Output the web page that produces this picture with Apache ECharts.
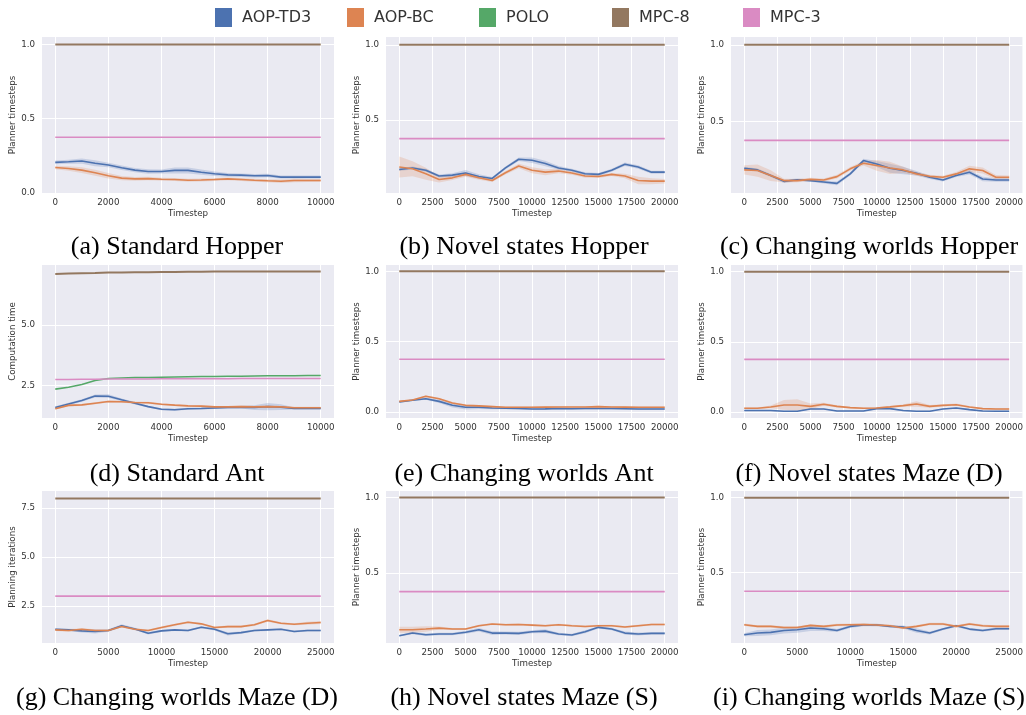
<!DOCTYPE html>
<html>
<head>
<meta charset="utf-8">
<script src="https://cdn.jsdelivr.net/npm/echarts@6/dist/echarts.min.js"></script>
<style>
  html, body { margin: 0; padding: 0; background: #fff; }
  #chart { width: 1026px; height: 715px; }
</style>
</head>
<body>
<div id="chart"></div>
<script>
// x samples
const steps10k = [0, 500, 1000, 1500, 2000, 2500, 3000, 3500, 4000, 4500, 5000, 5500, 6000, 6500, 7000, 7500, 8000, 8500, 9000, 9500, 10000];
const steps20k = [0, 1000, 2000, 3000, 4000, 5000, 6000, 7000, 8000, 9000, 10000, 11000, 12000, 13000, 14000, 15000, 16000, 17000, 18000, 19000, 20000];
const steps25k = [0, 1250, 2500, 3750, 5000, 6250, 7500, 8750, 10000, 11250, 12500, 13750, 15000, 16250, 17500, 18750, 20000, 21250, 22500, 23750, 25000];

// tick labels
const ticks10k = [0, 2000, 4000, 6000, 8000, 10000];
const ticks20k = [0, 2500, 5000, 7500, 10000, 12500, 15000, 17500, 20000];
const ticks25k = [0, 5000, 10000, 15000, 20000, 25000];
const ticksUnit = [0, 0.5, 1.0];
const ticksIter = [2.5, 5.0, 7.5];

// (a) Standard Hopper
const td3A = [0.206, 0.21, 0.215, 0.2, 0.188, 0.17, 0.154, 0.145, 0.145, 0.152, 0.152, 0.14, 0.13, 0.122, 0.12, 0.116, 0.118, 0.107, 0.107, 0.107, 0.107];
const td3SpreadA = [0.012, 0.013, 0.018, 0.02, 0.015, 0.015, 0.015, 0.015, 0.013, 0.02, 0.02, 0.018, 0.015, 0.013, 0.012, 0.012, 0.012, 0.01, 0.01, 0.01, 0.01];
const bcA = [0.172, 0.165, 0.154, 0.136, 0.116, 0.1, 0.095, 0.097, 0.093, 0.091, 0.086, 0.088, 0.091, 0.095, 0.091, 0.086, 0.082, 0.079, 0.084, 0.084, 0.084];
const bcSpreadA = [0.012, 0.015, 0.02, 0.02, 0.018, 0.015, 0.012, 0.012, 0.01, 0.01, 0.01, 0.01, 0.01, 0.01, 0.01, 0.01, 0.01, 0.012, 0.012, 0.01, 0.01];

// (b) Novel states Hopper
const td3B = [0.17, 0.18, 0.164, 0.126, 0.132, 0.146, 0.123, 0.11, 0.18, 0.238, 0.231, 0.209, 0.18, 0.164, 0.141, 0.137, 0.164, 0.204, 0.186, 0.152, 0.152];
const td3SpreadB = [0.01, 0.01, 0.01, 0.01, 0.012, 0.02, 0.015, 0.01, 0.01, 0.012, 0.018, 0.018, 0.012, 0.01, 0.01, 0.01, 0.01, 0.012, 0.012, 0.01, 0.01];
const bcB = [0.186, 0.175, 0.141, 0.103, 0.114, 0.137, 0.114, 0.096, 0.148, 0.193, 0.164, 0.152, 0.159, 0.146, 0.126, 0.123, 0.137, 0.126, 0.096, 0.092, 0.092];
const bcSpreadB = [0.07, 0.05, 0.04, 0.02, 0.015, 0.015, 0.012, 0.01, 0.012, 0.015, 0.02, 0.02, 0.015, 0.012, 0.012, 0.01, 0.01, 0.015, 0.025, 0.02, 0.015];

// (c) Changing worlds Hopper
const td3C = [0.193, 0.182, 0.145, 0.107, 0.118, 0.112, 0.103, 0.094, 0.156, 0.243, 0.221, 0.193, 0.178, 0.16, 0.134, 0.116, 0.145, 0.167, 0.123, 0.116, 0.116];
const td3SpreadC = [0.01, 0.01, 0.01, 0.01, 0.008, 0.008, 0.01, 0.012, 0.01, 0.012, 0.02, 0.03, 0.025, 0.015, 0.012, 0.01, 0.01, 0.015, 0.015, 0.012, 0.012];
const bcC = [0.182, 0.178, 0.145, 0.112, 0.112, 0.12, 0.116, 0.138, 0.189, 0.226, 0.211, 0.195, 0.182, 0.156, 0.14, 0.134, 0.156, 0.189, 0.178, 0.134, 0.134];
const bcSpreadC = [0.03, 0.04, 0.035, 0.012, 0.01, 0.01, 0.01, 0.012, 0.012, 0.015, 0.035, 0.04, 0.02, 0.012, 0.01, 0.01, 0.012, 0.02, 0.02, 0.015, 0.012];

// (d) Standard Ant
const td3D = [1.59, 1.74, 1.88, 2.07, 2.06, 1.91, 1.77, 1.63, 1.52, 1.5, 1.54, 1.55, 1.57, 1.59, 1.61, 1.59, 1.63, 1.61, 1.55, 1.55, 1.55];
const td3SpreadD = [0.05, 0.05, 0.05, 0.06, 0.08, 0.05, 0.05, 0.04, 0.04, 0.04, 0.04, 0.04, 0.04, 0.05, 0.06, 0.1, 0.15, 0.12, 0.04, 0.04, 0.04];
const bcD = [1.54, 1.68, 1.7, 1.77, 1.84, 1.83, 1.8, 1.79, 1.73, 1.69, 1.66, 1.65, 1.62, 1.62, 1.63, 1.62, 1.63, 1.62, 1.58, 1.58, 1.58];
const bcSpreadD = [0.04, 0.04, 0.04, 0.04, 0.04, 0.04, 0.04, 0.04, 0.04, 0.04, 0.04, 0.04, 0.04, 0.04, 0.04, 0.04, 0.04, 0.04, 0.04, 0.04, 0.04];
const poloD = [2.35, 2.43, 2.54, 2.71, 2.79, 2.81, 2.83, 2.83, 2.84, 2.85, 2.86, 2.87, 2.87, 2.88, 2.88, 2.89, 2.9, 2.9, 2.9, 2.91, 2.91];
const mpc8D = [7.1, 7.12, 7.13, 7.14, 7.16, 7.16, 7.17, 7.17, 7.18, 7.18, 7.19, 7.19, 7.2, 7.2, 7.2, 7.2, 7.2, 7.2, 7.2, 7.2, 7.2];
const mpc3D = [2.75, 2.75, 2.76, 2.76, 2.77, 2.77, 2.77, 2.77, 2.78, 2.78, 2.78, 2.78, 2.78, 2.78, 2.79, 2.79, 2.79, 2.79, 2.79, 2.79, 2.79];

// (e) Changing worlds Ant
const td3E = [0.072, 0.084, 0.095, 0.076, 0.048, 0.034, 0.034, 0.029, 0.027, 0.025, 0.022, 0.023, 0.025, 0.024, 0.025, 0.025, 0.025, 0.024, 0.022, 0.022, 0.022];
const td3SpreadE = [0.006, 0.006, 0.008, 0.012, 0.015, 0.015, 0.012, 0.008, 0.006, 0.006, 0.006, 0.006, 0.006, 0.006, 0.006, 0.006, 0.006, 0.006, 0.006, 0.006, 0.006];
const bcE = [0.076, 0.086, 0.112, 0.095, 0.065, 0.048, 0.044, 0.039, 0.034, 0.034, 0.034, 0.035, 0.036, 0.036, 0.036, 0.039, 0.036, 0.035, 0.034, 0.034, 0.034];
const bcSpreadE = [0.006, 0.006, 0.006, 0.006, 0.006, 0.006, 0.006, 0.006, 0.006, 0.006, 0.006, 0.006, 0.006, 0.006, 0.006, 0.006, 0.006, 0.006, 0.006, 0.006, 0.006];

// (f) Novel states Maze (D)
const td3F = [0.01, 0.01, 0.01, 0.005, 0.005, 0.021, 0.021, 0.007, 0.007, 0.007, 0.024, 0.024, 0.01, 0.005, 0.005, 0.021, 0.028, 0.017, 0.007, 0.005, 0.005];
const td3SpreadF = [0.004, 0.004, 0.004, 0.004, 0.004, 0.004, 0.004, 0.004, 0.004, 0.004, 0.004, 0.004, 0.004, 0.004, 0.004, 0.004, 0.004, 0.004, 0.004, 0.004, 0.004];
const bcF = [0.026, 0.026, 0.036, 0.05, 0.05, 0.04, 0.055, 0.04, 0.031, 0.026, 0.028, 0.036, 0.045, 0.057, 0.04, 0.047, 0.052, 0.036, 0.024, 0.021, 0.021];
const bcSpreadF = [0.005, 0.005, 0.01, 0.035, 0.04, 0.02, 0.01, 0.008, 0.005, 0.005, 0.005, 0.006, 0.008, 0.02, 0.01, 0.008, 0.008, 0.006, 0.005, 0.005, 0.005];

// (g) Changing worlds Maze (D)
const td3G = [1.3, 1.27, 1.22, 1.19, 1.24, 1.48, 1.32, 1.1, 1.22, 1.27, 1.24, 1.41, 1.3, 1.07, 1.13, 1.24, 1.27, 1.3, 1.19, 1.24, 1.24];
const td3SpreadG = [0.06, 0.06, 0.08, 0.1, 0.06, 0.08, 0.06, 0.06, 0.06, 0.05, 0.05, 0.05, 0.06, 0.08, 0.06, 0.05, 0.05, 0.05, 0.05, 0.05, 0.05];
const bcG = [1.27, 1.24, 1.3, 1.24, 1.24, 1.44, 1.3, 1.24, 1.39, 1.53, 1.66, 1.58, 1.39, 1.44, 1.44, 1.53, 1.75, 1.61, 1.56, 1.61, 1.65];
const bcSpreadG = [0.06, 0.06, 0.06, 0.06, 0.05, 0.05, 0.05, 0.05, 0.06, 0.06, 0.05, 0.05, 0.06, 0.05, 0.05, 0.06, 0.06, 0.05, 0.05, 0.08, 0.08];

// (h) Novel states Maze (S)
const td3H = [0.081, 0.099, 0.088, 0.093, 0.093, 0.104, 0.121, 0.099, 0.099, 0.097, 0.108, 0.112, 0.093, 0.086, 0.108, 0.137, 0.126, 0.099, 0.093, 0.097, 0.097];
const td3SpreadH = [0.005, 0.008, 0.008, 0.008, 0.008, 0.01, 0.012, 0.012, 0.01, 0.01, 0.01, 0.012, 0.008, 0.008, 0.01, 0.008, 0.008, 0.01, 0.01, 0.008, 0.008];
const bcH = [0.121, 0.121, 0.126, 0.132, 0.126, 0.126, 0.148, 0.159, 0.154, 0.156, 0.152, 0.148, 0.154, 0.148, 0.143, 0.148, 0.148, 0.139, 0.148, 0.156, 0.156];
const bcSpreadH = [0.02, 0.02, 0.018, 0.01, 0.007, 0.007, 0.007, 0.007, 0.007, 0.007, 0.007, 0.007, 0.007, 0.007, 0.007, 0.007, 0.007, 0.007, 0.007, 0.007, 0.007];

// (i) Changing worlds Maze (S)
const td3I = [0.084, 0.096, 0.1, 0.113, 0.118, 0.129, 0.124, 0.113, 0.14, 0.149, 0.149, 0.14, 0.136, 0.113, 0.096, 0.122, 0.144, 0.122, 0.113, 0.124, 0.124];
const td3SpreadI = [0.01, 0.02, 0.02, 0.02, 0.02, 0.02, 0.015, 0.01, 0.01, 0.008, 0.008, 0.008, 0.01, 0.015, 0.01, 0.008, 0.008, 0.008, 0.008, 0.008, 0.008];
const bcI = [0.151, 0.14, 0.14, 0.133, 0.133, 0.147, 0.14, 0.149, 0.151, 0.153, 0.149, 0.144, 0.129, 0.14, 0.156, 0.156, 0.14, 0.156, 0.144, 0.14, 0.14];
const bcSpreadI = [0.008, 0.008, 0.008, 0.008, 0.008, 0.008, 0.008, 0.008, 0.008, 0.008, 0.008, 0.008, 0.008, 0.008, 0.008, 0.008, 0.008, 0.008, 0.008, 0.008, 0.008];

// constant planner levels
const mpc8Unit = 1.0, mpc3Unit = 0.375;
const mpc8Iter = 8, mpc3Iter = 3;

const colors = {
  'AOP-TD3': '#4C72B0',
  'AOP-BC': '#DD8452',
  'POLO': '#55A868',
  'MPC-8': '#937860',
  'MPC-3': '#DA8BC3'
};

const panels = [
  { title: '(a) Standard Hopper', steps: steps10k, xTicks: ticks10k, yTicks: ticksUnit, yMin: 0.0, yMax: 1.05, yName: 'Planner timesteps',
    td3: td3A, td3Spread: td3SpreadA, bc: bcA, bcSpread: bcSpreadA, mpc8: mpc8Unit, mpc3: mpc3Unit },
  { title: '(b) Novel states Hopper', steps: steps20k, xTicks: ticks20k, yTicks: ticksUnit, yMin: 0.013, yMax: 1.052, yName: 'Planner timesteps',
    td3: td3B, td3Spread: td3SpreadB, bc: bcB, bcSpread: bcSpreadB, mpc8: mpc8Unit, mpc3: mpc3Unit },
  { title: '(c) Changing worlds Hopper', steps: steps20k, xTicks: ticks20k, yTicks: ticksUnit, yMin: 0.031, yMax: 1.051, yName: 'Planner timesteps',
    td3: td3C, td3Spread: td3SpreadC, bc: bcC, bcSpread: bcSpreadC, mpc8: mpc8Unit, mpc3: mpc3Unit },
  { title: '(d) Standard Ant', steps: steps10k, xTicks: ticks10k, yTicks: ticksIter, yMin: 1.16, yMax: 7.47, yName: 'Computation time',
    td3: td3D, td3Spread: td3SpreadD, bc: bcD, bcSpread: bcSpreadD, polo: poloD, mpc8: mpc8D, mpc3: mpc3D },
  { title: '(e) Changing worlds Ant', steps: steps20k, xTicks: ticks20k, yTicks: ticksUnit, yMin: -0.042, yMax: 1.045, yName: 'Planner timesteps',
    td3: td3E, td3Spread: td3SpreadE, bc: bcE, bcSpread: bcSpreadE, mpc8: mpc8Unit, mpc3: mpc3Unit },
  { title: '(f) Novel states Maze (D)', steps: steps20k, xTicks: ticks20k, yTicks: ticksUnit, yMin: -0.043, yMax: 1.048, yName: 'Planner timesteps',
    td3: td3F, td3Spread: td3SpreadF, bc: bcF, bcSpread: bcSpreadF, mpc8: mpc8Unit, mpc3: mpc3Unit },
  { title: '(g) Changing worlds Maze (D)', steps: steps25k, xTicks: ticks25k, yTicks: ticksIter, yMin: 0.6, yMax: 8.38, yName: 'Planning iterations',
    td3: td3G, td3Spread: td3SpreadG, bc: bcG, bcSpread: bcSpreadG, mpc8: mpc8Iter, mpc3: mpc3Iter },
  { title: '(h) Novel states Maze (S)', steps: steps20k, xTicks: ticks20k, yTicks: ticksUnit, yMin: 0.033, yMax: 1.044, yName: 'Planner timesteps',
    td3: td3H, td3Spread: td3SpreadH, bc: bcH, bcSpread: bcSpreadH, mpc8: mpc8Unit, mpc3: mpc3Unit },
  { title: '(i) Changing worlds Maze (S)', steps: steps25k, xTicks: ticks25k, yTicks: ticksUnit, yMin: 0.029, yMax: 1.045, yName: 'Planner timesteps',
    td3: td3I, td3Spread: td3SpreadI, bc: bcI, bcSpread: bcSpreadI, mpc8: mpc8Unit, mpc3: mpc3Unit }
];

// layout
const colLeft = [42, 386, 731];
const plotWidth = 292;
const rowTop = [37, 265, 491];
const rowHeight = [156, 153, 152];
const titleCenter = [172, 519, 864];
const titleTop = [229, 456, 680];
const legendLeft = [215, 347, 479, 612, 743];

const axisFont = { fontFamily: 'DejaVu Sans', fontSize: 8.7, color: '#333' };

let chart = echarts.init(document.getElementById('chart'), null, { renderer: 'canvas' });

let grids = [], xAxes = [], yAxes = [], series = [], titles = [];

const pairs = (xs, ys) => xs.map((x, i) => [x, ys[i]]);

// shaded band (mean +/- spread) drawn as one polygon through the axis scales
function bandSeries(i, name, steps, mean, spread) {
  return {
    type: 'custom', name: name + ' band', xAxisIndex: i, yAxisIndex: i,
    silent: true, animation: false, clip: true, z: 1,
    data: steps.map((x, k) => [x, mean[k] - spread[k], mean[k] + spread[k]]),
    encode: { x: 0, y: [1, 2] },
    renderItem: (params, api) => {
      if (params.dataIndex !== 0) return null;
      const upper = steps.map((x, k) => api.coord([x, mean[k] + spread[k]]));
      const lower = steps.map((x, k) => api.coord([x, mean[k] - spread[k]])).reverse();
      return {
        type: 'polygon',
        shape: { points: upper.concat(lower) },
        style: { fill: colors[name], opacity: 0.22 }
      };
    }
  };
}

panels.forEach((p, i) => {
  const row = Math.floor(i / 3), col = i % 3;
  const xEnd = p.steps[p.steps.length - 1];
  const pad = xEnd * 0.05;

  grids.push({
    left: colLeft[col], top: rowTop[row], width: plotWidth, height: rowHeight[row],
    show: true, backgroundColor: '#EAEAF2', borderWidth: 0
  });

  xAxes.push({
    type: 'value', gridIndex: i, min: -pad, max: xEnd + pad,
    name: 'Timestep', nameLocation: 'middle', nameGap: 16,
    nameTextStyle: axisFont,
    axisLine: { show: false },
    axisTick: { show: false, customValues: p.xTicks },
    axisLabel: Object.assign({ customValues: p.xTicks, margin: 5, formatter: v => String(v) }, axisFont),
    splitLine: { show: true, lineStyle: { color: '#fff', width: 1 } }
  });

  const yTicks = p.yTicks.filter(v => v >= p.yMin && v <= p.yMax);
  yAxes.push({
    type: 'value', gridIndex: i, min: p.yMin, max: p.yMax,
    name: p.yName, nameLocation: 'middle', nameGap: 19,
    nameTextStyle: axisFont,
    axisLine: { show: false },
    axisTick: { show: false, customValues: yTicks },
    axisLabel: Object.assign({ customValues: yTicks, margin: 7, formatter: v => v.toFixed(1) }, axisFont),
    splitLine: { show: true, lineStyle: { color: '#fff', width: 1 } }
  });

  titles.push({
    text: p.title, left: titleCenter[col], top: titleTop[row], textAlign: 'center',
    textStyle: { fontFamily: 'Liberation Serif', fontSize: 26, fontWeight: 'normal', color: '#000' }
  });

  series.push(bandSeries(i, 'AOP-TD3', p.steps, p.td3, p.td3Spread));
  series.push(bandSeries(i, 'AOP-BC', p.steps, p.bc, p.bcSpread));

  const base = { type: 'line', xAxisIndex: i, yAxisIndex: i, showSymbol: false, symbol: 'none', silent: true, animation: false, z: 3 };
  const addLine = (name, data, width) => series.push(Object.assign({}, base, {
    name: name, data: data,
    itemStyle: { color: colors[name] }, lineStyle: { color: colors[name], width: width }
  }));

  addLine('AOP-TD3', pairs(p.steps, p.td3), 1.6);
  addLine('AOP-BC', pairs(p.steps, p.bc), 1.6);
  if (p.polo) addLine('POLO', pairs(p.steps, p.polo), 1.6);
  const level = (v) => Array.isArray(v) ? pairs(p.steps, v) : [[p.steps[0], v], [xEnd, v]];
  addLine('MPC-8', level(p.mpc8), 2);
  addLine('MPC-3', level(p.mpc3), 1.6);
});

// one legend per entry so they sit at evenly spaced columns
const legends = Object.keys(colors).map((name, k) => ({
  data: [{ name: name, itemStyle: { color: colors[name] } }],
  left: legendLeft[k], top: 8, padding: 0,
  icon: 'rect', itemWidth: 17, itemHeight: 19,
  textStyle: { fontFamily: 'DejaVu Sans', fontSize: 16, color: '#333', padding: [0, 0, 0, 5] }
}));

chart.setOption({
  animation: false,
  title: titles,
  legend: legends,
  grid: grids,
  xAxis: xAxes,
  yAxis: yAxes,
  series: series
});
</script>
</body>
</html>
